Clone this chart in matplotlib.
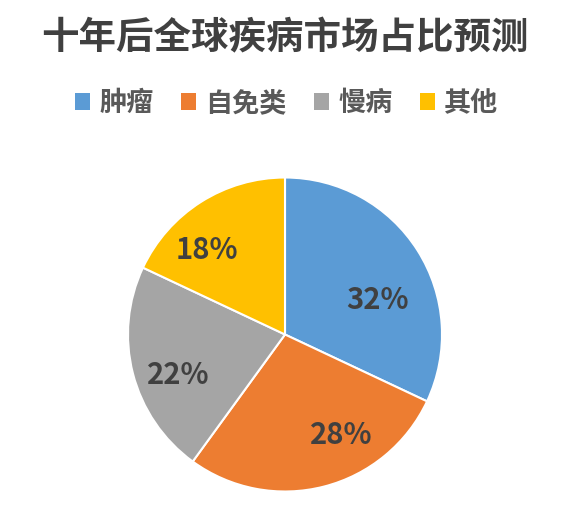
import matplotlib.pyplot as plt
from matplotlib.patches import Patch

plt.rcParams['font.family'] = ['Noto Sans CJK SC', 'DejaVu Sans']

categories = ["肿瘤", "自免类", "慢病", "其他"]
shares = [32, 28, 22, 18]
colors = ["#5B9BD5", "#ED7D31", "#A5A5A5", "#FFC000"]
title = "十年后全球疾病市场占比预测"

# label spots in pie units (Excel best-fit placement)
label_pos = [(0.59, 0.22), (0.36, -0.64), (-0.68, -0.26), (-0.50, 0.54)]

W, H = 568, 518
fig = plt.figure(figsize=(W / 100, H / 100), dpi=100)

cx, cy, r = 285, 334.5, 157
ax = fig.add_axes([(cx - r) / W, (H - cy - r) / H, 2 * r / W, 2 * r / H])
wedges, _ = ax.pie(shares, colors=colors, startangle=90, counterclock=False,
                   wedgeprops=dict(edgecolor="white", linewidth=1.5))
ax.set_xlim(-1, 1)
ax.set_ylim(-1, 1)
ax.set_aspect("equal")
ax.axis("off")

for v, (x, y) in zip(shares, label_pos):
    ax.text(x, y, f"{v}%", ha="center", va="center", fontsize=21,
            fontweight="bold", color="#404040")

fig.text(0.502, 1 - 38 / H, title, ha="center", va="center", fontsize=27,
         fontweight="bold", color="#404040")

handles = [Patch(facecolor=c, edgecolor="none") for c in colors]
fig.legend(handles, categories, loc="center", bbox_to_anchor=(0.505, 1 - 103 / H),
           ncol=4, frameon=False, handlelength=0.55, handleheight=0.55,
           handletextpad=0.35, columnspacing=1.0,
           prop=dict(size=19.5, weight="bold"), labelcolor="#595959")

fig.savefig("out.png", dpi=100, facecolor="white")
